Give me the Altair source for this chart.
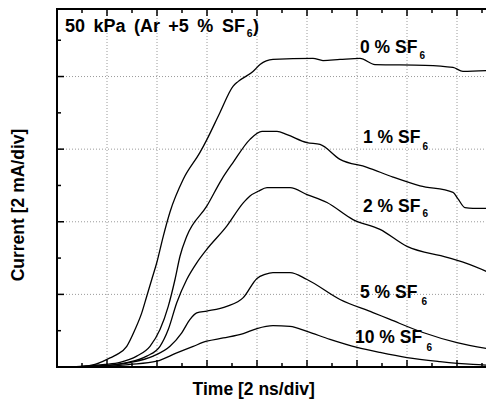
import altair as alt
import pandas as pd

# ---- data (time in ns, current in mA; 2 ns/div, 2 mA/div) ----
t0 = [0, 0.92, 1.52, 2.12, 2.39, 2.79, 3.12, 3.39, 3.59, 3.79, 3.99, 4.25, 4.52, 5.05, 5.72, 6.00,
      6.52, 7.04, 7.24, 7.84, 8.12, 8.64, 10.24, 10.64, 11.32, 12.12, 12.72, 14.72, 15.84, 16.24, 17.44]
c0 = [0, 0.01, 0.07, 0.25, 0.34, 0.57, 1.03, 1.49, 1.95, 2.41, 2.87, 3.60, 4.27, 5.17, 5.91, 6.27,
      7.01, 7.73, 7.86, 8.14, 8.33, 8.47, 8.50, 8.44, 8.47, 8.50, 8.33, 8.31, 8.25, 8.14, 8.17]

t1 = [0, 1.32, 1.92, 2.52, 3.19, 3.72, 4.12, 4.45, 4.72, 4.92, 5.19, 5.99, 6.59, 7.04, 7.72, 8.20,
      8.80, 9.20, 10.00, 10.52, 11.32, 12.40, 13.44, 14.52, 15.84, 16.04, 16.32, 16.64, 17.44]
c1 = [0, 0.03, 0.07, 0.13, 0.30, 0.57, 1.03, 1.67, 2.41, 3.05, 3.60, 4.43, 5.17, 5.63, 6.27, 6.49,
      6.49, 6.40, 6.18, 6.13, 5.72, 5.50, 5.23, 4.99, 4.81, 4.63, 4.39, 4.37, 4.37]

t2 = [0, 1.72, 2.79, 3.59, 4.12, 4.45, 4.79, 5.19, 5.59, 5.99, 6.79, 7.45, 7.72, 8.05, 8.40, 9.32,
      10.00, 10.80, 11.84, 12.92, 14.00, 15.60, 16.52, 17.44]
c2 = [0, 0.03, 0.12, 0.30, 0.57, 1.03, 1.77, 2.41, 2.87, 3.24, 3.88, 4.52, 4.71, 4.84, 4.94, 4.94,
      4.75, 4.53, 4.06, 3.79, 3.32, 3.02, 2.82, 2.55]

t5 = [0, 1.72, 2.92, 3.85, 4.52, 4.99, 5.32, 5.59, 5.99, 6.79, 7.45, 8.00, 8.32, 8.64, 9.32, 10.00,
      11.32, 12.64, 13.32, 14.64, 16.00, 17.44]
c5 = [0, 0.03, 0.12, 0.30, 0.57, 0.94, 1.31, 1.49, 1.54, 1.67, 1.91, 2.44, 2.55, 2.60, 2.60, 2.41,
      1.86, 1.50, 1.31, 0.95, 0.67, 0.48]

t10 = [0, 1.72, 2.92, 3.99, 4.79, 5.45, 5.99, 6.65, 7.45, 8.00, 8.64, 9.32, 10.00, 10.92, 12.00,
       12.92, 14.00, 15.32, 16.64, 17.44]
c10 = [0, 0.01, 0.07, 0.16, 0.39, 0.57, 0.71, 0.80, 0.92, 1.06, 1.14, 1.12, 0.98, 0.76, 0.54,
       0.40, 0.26, 0.15, 0.07, 0.04]

series_names = ["0 %", "1 %", "2 %", "5 %", "10 %"]
series_t = [t0, t1, t2, t5, t10]
series_c = [c0, c1, c2, c5, c10]

# curve labels (main text + subscript), anchored in data units
label_text = ["0 % SF", "1 % SF", "2 % SF", "5 % SF", "10 % SF"]
label_x = [12.12, 12.24, 12.24, 12.12, 11.92]
label_y = [8.66, 6.16, 4.28, 1.91, 0.65]
sub_x = [14.50, 14.62, 14.62, 14.58, 14.78]
sub_y = [8.47, 5.99, 4.12, 1.72, 0.43]

# panel title pieces
title_words = ["50", "kPa", "(Ar", "+5", "%", "SF", ")"]
title_x = [0.32, 1.46, 3.08, 4.45, 5.61, 6.60, 7.84]
title_y = 9.24
title_sub_x = 7.59
title_sub_y = 9.08

x_title = "Time [2 ns/div]"
y_title = "Current [2 mA/div]"

x_major = [2, 4, 6, 8, 10, 12, 14, 16]
x_minor = [1, 3, 5, 7, 9, 11, 13, 15, 17]
y_major = [2, 4, 6, 8]
y_minor = [1, 3, 5, 7, 9]

# ---- build ----
rows = []
for n, ts, cs in zip(series_names, series_t, series_c):
    for t, c in zip(ts, cs):
        rows.append({"series": n, "t": t, "c": c})
df = pd.DataFrame(rows)

W, H = 429, 358
XMAX, YMAX = 17.16, 9.86
FONT = "Liberation Sans"

xs = alt.Scale(domain=[0, XMAX], nice=False, zero=False)
ys = alt.Scale(domain=[0, YMAX], nice=False, zero=False)
X = lambda f: alt.X(f, scale=xs, axis=None)
Y = lambda f: alt.Y(f, scale=ys, axis=None)

# dotted grid
gx = alt.Chart(pd.DataFrame({"v": x_major})).mark_rule(
    color="#9a9a9a", strokeWidth=1, strokeDash=[1, 2]).encode(
    x=X("v:Q"), y=alt.value(0), y2=alt.value(H))
gy = alt.Chart(pd.DataFrame({"v": y_major})).mark_rule(
    color="#9a9a9a", strokeWidth=1, strokeDash=[1, 2]).encode(
    y=Y("v:Q"), x=alt.value(0), x2=alt.value(W))

lines = alt.Chart(df).mark_line(color="black", strokeWidth=1.3, interpolate="monotone",
                                clip=True).encode(
    x=X("t:Q"), y=Y("c:Q"), detail="series:N")

def xticks(vals, length):
    d = pd.DataFrame({"v": vals})
    bot = alt.Chart(d).mark_rule(color="black", strokeWidth=1.5).encode(
        x=X("v:Q"), y=alt.value(H), y2=alt.value(H - length))
    top = alt.Chart(d).mark_rule(color="black", strokeWidth=1.5).encode(
        x=X("v:Q"), y=alt.value(0), y2=alt.value(length))
    return [bot, top]

def yticks(vals, length):
    d = pd.DataFrame({"v": vals})
    return [alt.Chart(d).mark_rule(color="black", strokeWidth=1.5).encode(
        y=Y("v:Q"), x=alt.value(0), x2=alt.value(length))]

one = pd.DataFrame({"a": [0]})
top_border = alt.Chart(one).mark_rule(color="black", strokeWidth=2).encode(
    x=alt.value(0), x2=alt.value(W + 2), y=alt.value(0))
bottom_border = alt.Chart(one).mark_rule(color="black", strokeWidth=2).encode(
    x=alt.value(-1), x2=alt.value(W + 2), y=alt.value(H))
left_border = alt.Chart(one).mark_rule(color="black", strokeWidth=2).encode(
    x=alt.value(0), y=alt.value(-1), y2=alt.value(H + 1))

xt = alt.Chart(pd.DataFrame({"text": [x_title]})).mark_text(
    align="center", baseline="alphabetic", font=FONT, fontWeight="bold", fontSize=17.5,
    color="black").encode(x=alt.value(196.7), y=alt.value(H + 27.5), text="text:N")
yt = alt.Chart(pd.DataFrame({"text": [y_title]})).mark_text(
    align="center", baseline="alphabetic", font=FONT, fontWeight="bold", fontSize=17.5,
    angle=270, color="black").encode(x=alt.value(-33), y=alt.value(196), text="text:N")

lab_df = pd.DataFrame({"x": label_x, "y": label_y, "text": label_text})
sub_df = pd.DataFrame({"x": sub_x, "y": sub_y, "text": ["6"] * len(sub_x)})
tit_df = pd.DataFrame({"x": title_x, "y": [title_y] * len(title_x), "text": title_words})
tsub_df = pd.DataFrame({"x": [title_sub_x], "y": [title_sub_y], "text": ["6"]})

def texts(d, size):
    return alt.Chart(d).mark_text(align="left", baseline="alphabetic", font=FONT,
                                  fontWeight="bold", fontSize=size, color="black").encode(
        x=X("x:Q"), y=Y("y:Q"), text="text:N")

layers = [gx, gy, lines]
layers += xticks(x_major, 7) + xticks(x_minor, 4)
layers += yticks(y_major, 7) + yticks(y_minor, 4)
layers += [top_border, bottom_border, left_border, xt, yt]
layers += [texts(lab_df, 17.5), texts(sub_df, 10), texts(tit_df, 18), texts(tsub_df, 10.5)]

chart = alt.layer(*layers).properties(
    width=W, height=H,
    autosize=alt.AutoSizeParams(type="none"),
    padding={"left": 49, "top": 1, "right": 0, "bottom": 32},
).configure_view(stroke=None).configure(background="white")

chart.save("out.html", embed_options={"renderer": "svg", "actions": False})
